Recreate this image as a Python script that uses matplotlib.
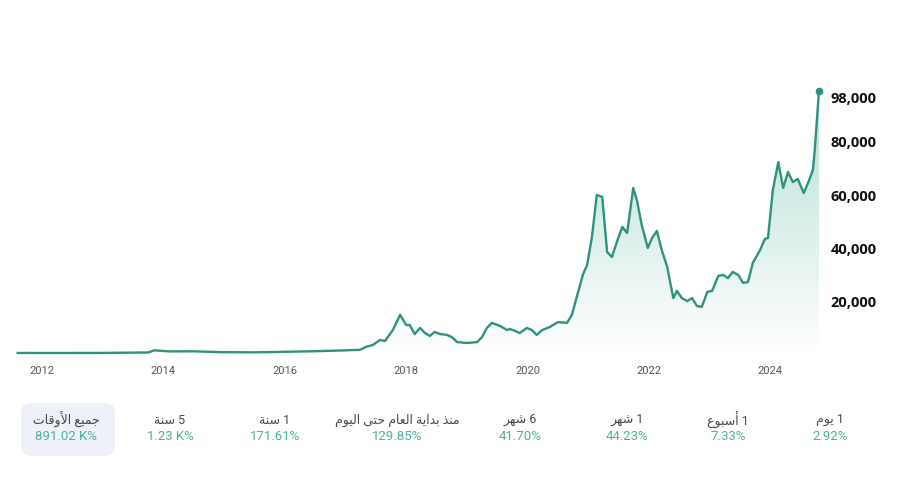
import numpy as np
import matplotlib
matplotlib.use("Agg")
import matplotlib.pyplot as plt
from matplotlib.patches import FancyBboxPatch, Polygon
from matplotlib.transforms import ScaledTranslation


# ------------------------------------------------------------------
# Data
# ------------------------------------------------------------------
years = [
    2011.60, 2012.00, 2012.50, 2012.95, 2013.30, 2013.75, 2013.85, 2014.10,
    2014.50, 2014.95, 2015.50, 2015.95, 2016.50, 2016.95, 2017.24, 2017.35,
    2017.45, 2017.57, 2017.65, 2017.78, 2017.90, 2018.00, 2018.06, 2018.14,
    2018.23, 2018.31, 2018.39, 2018.47, 2018.56, 2018.67, 2018.75, 2018.84,
    2019.00, 2019.17, 2019.25, 2019.33, 2019.41, 2019.55, 2019.66, 2019.71,
    2019.79, 2019.87, 2019.99, 2020.07, 2020.15, 2020.24, 2020.37, 2020.50,
    2020.65, 2020.73, 2020.81, 2020.91, 2020.98, 2021.06, 2021.14, 2021.23,
    2021.31, 2021.39, 2021.47, 2021.56, 2021.64, 2021.74, 2021.80, 2021.88,
    2021.98, 2022.05, 2022.13, 2022.21, 2022.30, 2022.40, 2022.46, 2022.54,
    2022.63, 2022.71, 2022.79, 2022.87, 2022.96, 2023.04, 2023.14, 2023.22,
    2023.30, 2023.38, 2023.47, 2023.55, 2023.63, 2023.71, 2023.83, 2023.91,
    2023.96, 2024.04, 2024.13, 2024.21, 2024.29, 2024.37, 2024.45, 2024.55,
    2024.62, 2024.70, 2024.73, 2024.80,
]
prices = [
    10, 6, 7, 13, 100, 200, 1000, 600,
    630, 320, 250, 430, 670, 960, 1200, 2400,
    3000, 4900, 4500, 8600, 14300, 10500, 10500, 7100,
    9400, 7500, 6400, 7900, 7100, 6800, 6000, 4100,
    3750, 4100, 6000, 9400, 11300, 10100, 8600, 9000,
    8300, 7500, 9400, 8600, 6800, 8600, 9800, 11600,
    11300, 14300, 21000, 29300, 33000, 43500, 59300, 58500,
    37900, 36000, 41600, 47300, 45000, 61900, 57400, 48000,
    39400, 43100, 45800, 38600, 32300, 20600, 23300, 20600,
    19500, 20600, 17600, 17300, 22900, 23300, 28900, 29300,
    28100, 30400, 29300, 26300, 26600, 33800, 38600, 42800,
    43100, 61100, 71600, 61900, 67900, 64100, 65300, 60000,
    63800, 68600, 76000, 98200,
]

year_ticks = [2012, 2014, 2016, 2018, 2020, 2022, 2024]
price_ticks = [20000, 40000, 60000, 80000, 98000]

periods = ["جميع الأوقات", "5 سنة", "1 سنة", "منذ بداية العام حتى اليوم",
           "6 شهر", "1 شهر", "1 أسبوع", "1 يوم"]
changes = ["891.02 K%", "1.23 K%", "171.61%", "129.85%",
           "41.70%", "44.23%", "7.33%", "2.92%"]

LINE_COLOR = "#2e927f"
FILL_COLOR = "#b4ded4"
PCT_COLOR = "#4cb39f"
LABEL_COLOR = "#4a4a4a"
FONTS = ["Roboto", "DejaVu Sans"]


# ------------------------------------------------------------------
# Minimal Arabic shaping (matplotlib has no shaping / bidi)
# ------------------------------------------------------------------
# letter: (isolated, final, initial, medial); None = right-joining only
FORMS = {
    "ا": ("\uFE8D", "\uFE8E", None, None),
    "أ": ("\uFE83", "\uFE84", None, None),
    "ب": ("\uFE8F", "\uFE90", "\uFE91", "\uFE92"),
    "ة": ("\uFE93", "\uFE94", None, None),
    "ت": ("\uFE95", "\uFE96", "\uFE97", "\uFE98"),
    "ج": ("\uFE9D", "\uFE9E", "\uFE9F", "\uFEA0"),
    "ح": ("\uFEA1", "\uFEA2", "\uFEA3", "\uFEA4"),
    "د": ("\uFEA9", "\uFEAA", None, None),
    "ذ": ("\uFEAB", "\uFEAC", None, None),
    "ر": ("\uFEAD", "\uFEAE", None, None),
    "س": ("\uFEB1", "\uFEB2", "\uFEB3", "\uFEB4"),
    "ش": ("\uFEB5", "\uFEB6", "\uFEB7", "\uFEB8"),
    "ع": ("\uFEC9", "\uFECA", "\uFECB", "\uFECC"),
    "ق": ("\uFED5", "\uFED6", "\uFED7", "\uFED8"),
    "ل": ("\uFEDD", "\uFEDE", "\uFEDF", "\uFEE0"),
    "م": ("\uFEE1", "\uFEE2", "\uFEE3", "\uFEE4"),
    "ن": ("\uFEE5", "\uFEE6", "\uFEE7", "\uFEE8"),
    "ه": ("\uFEE9", "\uFEEA", "\uFEEB", "\uFEEC"),
    "و": ("\uFEED", "\uFEEE", None, None),
    "ى": ("\uFEEF", "\uFEF0", None, None),
    "ي": ("\uFEF1", "\uFEF2", "\uFEF3", "\uFEF4"),
}
LAM_ALEF = {"ا": ("\uFEFB", "\uFEFC"), "أ": ("\uFEF7", "\uFEF8")}


def shape_arabic(text):
    out = []
    i = 0
    n = len(text)
    while i < n:
        ch = text[i]
        if ch not in FORMS:
            out.append(ch)
            i += 1
            continue
        prev = text[i - 1] if i > 0 else ""
        joins_prev = prev in FORMS and FORMS[prev][2] is not None
        if ch == "ل" and i + 1 < n and text[i + 1] in LAM_ALEF:
            iso, fin = LAM_ALEF[text[i + 1]]
            out.append(fin if joins_prev else iso)
            i += 2
            continue
        nxt = text[i + 1] if i + 1 < n else ""
        iso, fin, ini, med = FORMS[ch]
        joins_next = ini is not None and nxt in FORMS
        if joins_prev and joins_next:
            out.append(med)
        elif joins_prev:
            out.append(fin)
        elif joins_next:
            out.append(ini)
        else:
            out.append(iso)
        i += 1
    # visual (left-to-right) order: reverse, but keep digit runs intact
    vis = "".join(out)[::-1]
    res, run = [], ""
    for c in vis:
        if c.isdigit():
            run += c
        else:
            res.append(run[::-1])
            run = ""
            res.append(c)
    res.append(run[::-1])
    return "".join(res)


# ------------------------------------------------------------------
# Figure
# ------------------------------------------------------------------
W, H = 900, 500
fig = plt.figure(figsize=(9, 5), dpi=100)

# axes placed in pixel terms: x 18..822, y 80..355 (from top)
ax = fig.add_axes([18 / W, 1 - 355 / H, (822 - 18) / W, (355 - 80) / H])
ax.set_xlim(2011.605, 2024.85)
ax.set_ylim(-750, 102400)

x = np.array(years)
y = np.array(prices)

# gradient fill under the line
grad = np.linspace(1, 0, 256).reshape(-1, 1)
cmap = matplotlib.colors.LinearSegmentedColormap.from_list(
    "fade", ["#ffffff", FILL_COLOR])
img = ax.imshow(grad, extent=[x.min(), x.max(), 0, 100000], aspect="auto",
                cmap=cmap, vmin=0, vmax=1.0, origin="upper", zorder=1)
poly = Polygon(np.column_stack([np.r_[x, x[-1], x[0]], np.r_[y, 0, 0]]),
               closed=True, facecolor="none", edgecolor="none")
ax.add_patch(poly)
img.set_clip_path(poly)

ax.plot(x, y, color=LINE_COLOR, linewidth=1.7, zorder=3, clip_on=False)
ax.plot(x[-1], y[-1], "o", color=LINE_COLOR, markersize=4.5, zorder=4,
        clip_on=False)

for s in ax.spines.values():
    s.set_visible(False)

ax.set_xticks(year_ticks)
ax.set_xticklabels([str(t) for t in year_ticks], fontfamily=FONTS,
                   fontsize=8, color="#555555")
ax.tick_params(axis="x", length=0, pad=8)

ax.yaxis.tick_right()
ax.set_yticks(price_ticks)
ax.set_yticklabels([f"{t:,}" for t in price_ticks], fontfamily="Open Sans",
                   fontweight="bold", fontsize=10.5, color="#111111")
ax.tick_params(axis="y", length=0, pad=6)
# labels sit a little below their values in the reference
for lab, t in zip(ax.get_yticklabels(), price_ticks):
    dy = -6 if t == 98000 else -2
    lab.set_transform(lab.get_transform() +
                      ScaledTranslation(0, dy / 100, fig.dpi_scale_trans))

# ------------------------------------------------------------------
# Period-change strip at the bottom
# ------------------------------------------------------------------
centers = [66, 170, 275, 397, 520, 627, 728, 830]

box = FancyBboxPatch((21 / W, 1 - 456 / H), 94 / W, 53 / H,
                     boxstyle="round,pad=0,rounding_size=0.016",
                     transform=fig.transFigure, facecolor="#eef1f8",
                     edgecolor="none", zorder=0)
fig.patches.append(box)

for cx, lab, val in zip(centers, periods, changes):
    fig.text(cx / W, 1 - 420 / H, shape_arabic(lab), ha="center",
             va="center", fontsize=9, color=LABEL_COLOR, fontfamily=FONTS)
    fig.text(cx / W, 1 - 437 / H, val, ha="center", va="center",
             fontsize=9.5, color=PCT_COLOR, fontfamily=FONTS)

fig.savefig("out.png", dpi=100)
